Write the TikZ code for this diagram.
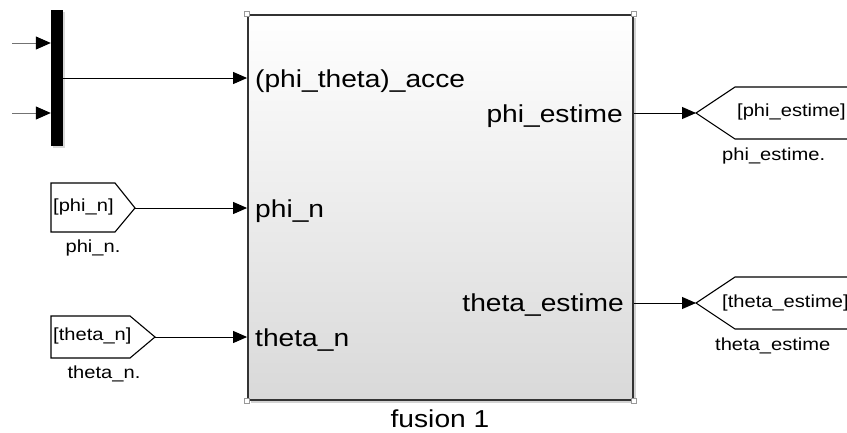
\documentclass[tikz,border=0pt]{standalone}
\usepackage{fontspec}
\setmainfont{Liberation Sans}[FakeStretch=1.15]
\usetikzlibrary{arrows.meta,shadows}

\begin{document}
\begin{tikzpicture}[x=1pt, y=-1pt,
  sig/.style={line width=1pt, -{Triangle[length=14pt,width=12pt]}},
  feed/.style={line width=1pt, black!55, -{Triangle[length=15pt,width=13pt,color=black]}},
  port/.style={font=\fontsize{24.5}{28}\selectfont, inner sep=0},
  tag/.style={line width=1.1pt, fill=white},
  tagtxt/.style={font=\fontsize{17.5}{20}\selectfont, inner sep=0},
  handle/.style={draw=black!40, fill=white, line width=0.6pt, minimum size=5pt, inner sep=0}]
\clip (0,0) rectangle (847,432);

% mux bar and its two inputs
\node[fill=black, minimum width=12, minimum height=136, inner sep=0,
  drop shadow={shadow xshift=2pt, shadow yshift=-2pt, opacity=0.3}] (mux) at (57,78) {};
\coordinate (in1) at (12,43);
\coordinate (in2) at (12,113);
\draw[feed] (in1) -- (mux.west |- in1);
\draw[feed] (in2) -- (mux.west |- in2);

% subsystem block
\node[draw=black!80, line width=1.8pt, minimum width=385, minimum height=385, inner sep=0,
  top color=white, middle color=black!4, bottom color=black!15,
  drop shadow={shadow xshift=2.5pt, shadow yshift=-2.5pt, opacity=0.35}] (fus) at (440.5,207.5) {};
\foreach \c/\n in {north west/nw, north east/ne, south west/sw, south east/se}
  \node[handle] (hdl\n) at (fus.\c) {};
\node[port, anchor=base] (fusname) at (440,427) {fusion 1};

% port labels
\node[port, anchor=base west] (inacc) at (255,87) {(phi\_theta)\_acce};
\node[port, anchor=base west] (inphi) at (255,217) {phi\_n};
\node[port, anchor=base west] (inth) at (255,346) {theta\_n};
\node[port, anchor=base east] (outphi) at (623,122) {phi\_estime};
\node[port, anchor=base east] (outth) at (624,311) {theta\_estime};

% from tags
\draw[tag] (51,183) -- (115,183) -- (135,208) -- (115,232) -- (51,232) -- cycle;
\coordinate (fphi) at (135,208);
\node[tagtxt, anchor=west] (fphitxt) at (53,207) {[phi\_n]};
\node[tagtxt, anchor=base] (fphilbl) at (93,252) {phi\_n.};
\draw[tag] (51,316) -- (130,316) -- (155,337) -- (130,358) -- (51,358) -- cycle;
\coordinate (fth) at (155,337);
\node[tagtxt, anchor=west] (fthtxt) at (53,336) {[theta\_n]};
\node[tagtxt, anchor=base] (fthlbl) at (104,378) {theta\_n.};

% goto tags
\coordinate (gphi) at (696,113);
\draw[tag] (852,87) -- (735,87) -- (gphi) -- (735,139) -- (852,139);
\node[tagtxt, anchor=west] (gphitxt) at (737,112) {[phi\_estime]};
\node[tagtxt, anchor=base west] (gphilbl) at (722,160) {phi\_estime.};
\coordinate (gth) at (696,303);
\draw[tag] (852,277) -- (735,277) -- (gth) -- (735,329) -- (852,329);
\node[tagtxt, anchor=west] (gthtxt) at (722,303) {[theta\_estime]};
\node[tagtxt, anchor=base west] (gthlbl) at (715,350) {theta\_estime};

% signals
\draw[sig] (mux.east) -- (mux.east -| fus.west);
\draw[sig] (fphi) -- (fphi -| fus.west);
\draw[sig] (fth) -- (fth -| fus.west);
\draw[sig] (fus.east |- gphi) -- (gphi);
\draw[sig] (fus.east |- gth) -- (gth);
\end{tikzpicture}
\end{document}
